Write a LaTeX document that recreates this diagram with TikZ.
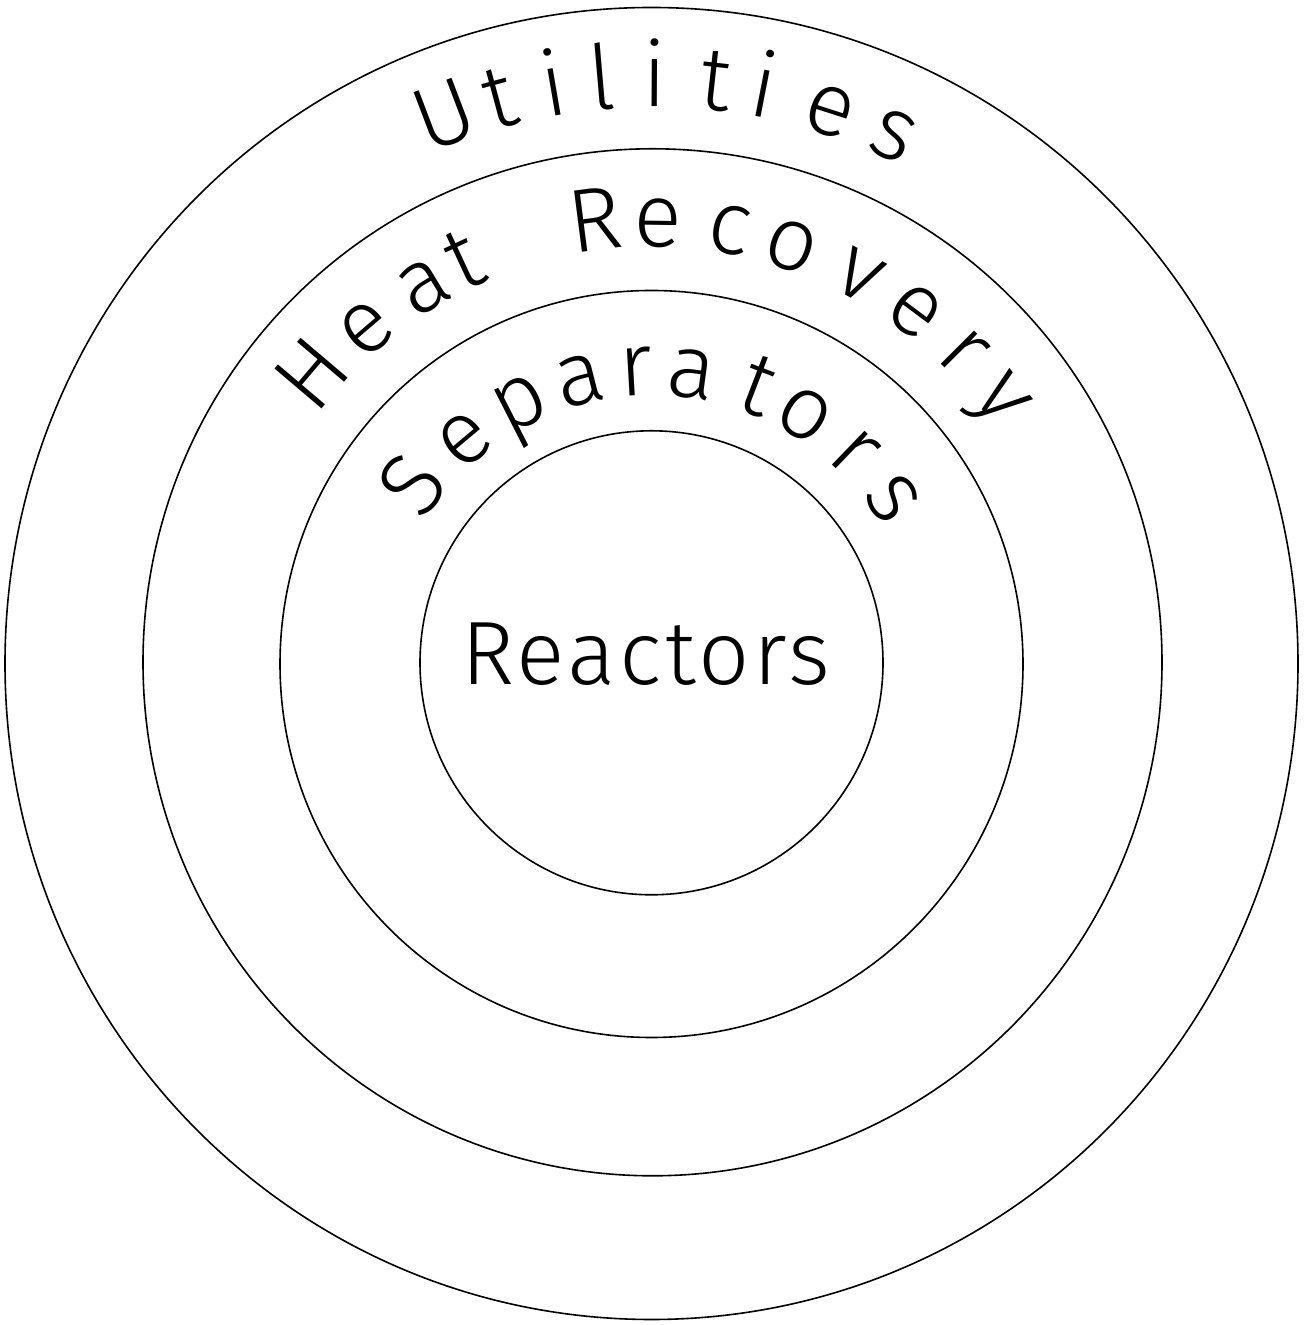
\documentclass[tikz,border=0pt]{standalone}
\usepackage{fontspec}
\newfontfamily\ringfont{Fira Sans Light}
\usetikzlibrary{shapes.geometric,calc}

\begin{document}
\begin{tikzpicture}[x=1pt, y=1pt,
  ring/.style={draw, ellipse, inner sep=0pt, line width=1.6pt},
  word/.style={font=\ringfont\fontsize{90}{90}\selectfont, inner sep=0pt,
    anchor=base}]
\useasboundingbox (0,0) rectangle (1310,1325);
\coordinate (c) at (652,662);
% the four layers, outside in
\node[ring, minimum width=1293pt, minimum height=1312pt] (util) at (651.5,661.5) {};
\node[ring, minimum width=1019pt, minimum height=1027pt] (heat) at (652.5,662.7) {};
\node[ring, minimum width=743pt, minimum height=747pt] (sep) at (651.5,661) {};
\node[ring, minimum width=463pt, minimum height=464pt] (react) at (651.5,662.2) {};
% curved labels, one letter at a time
\foreach \ang/\ch [count=\i] in {110.8/U, 105.1/t, 99.7/i, 94.9/l, 89.7/i,
    83.7/t, 79.0/i, 72.2/e, 65.4/s}
  \node[word, rotate=\ang-90] (u\i) at ($(c)+(\ang:556)$) {\ch};
\foreach \ang/\ch [count=\i] in {139.7/H, 130.5/e, 121.2/a, 115.0/t,
    97.3/R, 89.2/e, 79.9/c, 71.5/o, 61.8/v, 53.3/e, 44.9/r, 37.0/y}
  \node[word, rotate=\ang-90] (h\i) at ($(c)+(\ang:416)$) {\ch};
\foreach \ang/\ch [count=\i] in {143.4/S, 130.0/e, 117.0/p, 104.3/a, 93.2/r,
    82.3/a, 69.0/t, 58.5/o, 46.1/r, 34.3/s}
  \node[word, rotate=\ang-90] (s\i) at ($(c)+(\ang:268)$) {\ch};
\node[word] (rlbl) at (646,640) {\addfontfeature{LetterSpace=4}Reactors};
\end{tikzpicture}
\end{document}
